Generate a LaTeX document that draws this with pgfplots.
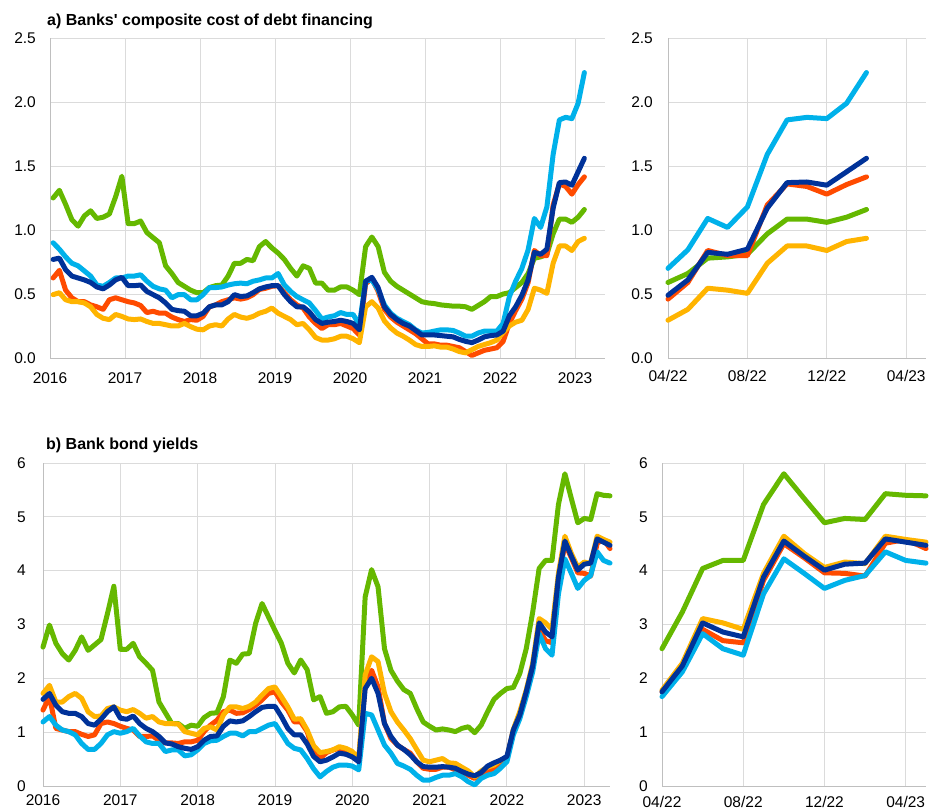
\documentclass[border=0pt]{standalone}
\usepackage{fontspec}
\setmainfont{Liberation Sans}[Ligatures=TeXOff]
\usepackage{pgfplots}
\usepackage{pgfplotstable}
\pgfplotsset{compat=1.18}
\definecolor{ecbnavy}{RGB}{0,50,153}
\definecolor{ecbred}{RGB}{255,75,0}
\definecolor{ecbyellow}{RGB}{255,180,0}
\definecolor{ecbgreen}{RGB}{101,184,0}
\definecolor{ecblblue}{RGB}{0,177,234}

% Panel a: monthly, Jan 2016 - Feb 2023
\pgfplotstableread{
g r y lb nv
1.25 0.625 0.495 0.90 0.77
1.31 0.685 0.51 0.85 0.78
1.20 0.53 0.455 0.79 0.69
1.08 0.47 0.44 0.74 0.64
1.03 0.44 0.44 0.72 0.625
1.11 0.44 0.43 0.68 0.61
1.15 0.415 0.40 0.64 0.59
1.09 0.40 0.34 0.57 0.555
1.10 0.38 0.31 0.56 0.54
1.125 0.455 0.30 0.59 0.57
1.26 0.47 0.34 0.625 0.61
1.42 0.455 0.325 0.625 0.63
1.05 0.44 0.305 0.64 0.565
1.05 0.43 0.30 0.64 0.565
1.07 0.41 0.305 0.65 0.57
0.98 0.355 0.285 0.60 0.52
0.94 0.365 0.27 0.56 0.495
0.90 0.35 0.27 0.54 0.47
0.72 0.35 0.26 0.53 0.43
0.66 0.32 0.25 0.47 0.38
0.59 0.30 0.25 0.495 0.37
0.56 0.285 0.27 0.495 0.365
0.53 0.30 0.245 0.455 0.33
0.51 0.295 0.225 0.455 0.33
0.51 0.325 0.22 0.495 0.35
0.55 0.40 0.25 0.55 0.40
0.565 0.415 0.26 0.55 0.415
0.57 0.44 0.25 0.555 0.415
0.64 0.455 0.305 0.57 0.44
0.74 0.47 0.34 0.58 0.495
0.74 0.46 0.32 0.585 0.48
0.77 0.47 0.31 0.58 0.485
0.76 0.495 0.325 0.60 0.51
0.87 0.535 0.35 0.61 0.54
0.91 0.545 0.365 0.625 0.555
0.86 0.56 0.39 0.625 0.565
0.82 0.565 0.35 0.66 0.565
0.77 0.51 0.325 0.57 0.495
0.70 0.455 0.30 0.52 0.44
0.64 0.415 0.26 0.48 0.40
0.72 0.39 0.27 0.455 0.40
0.70 0.32 0.22 0.43 0.36
0.585 0.27 0.16 0.37 0.30
0.585 0.23 0.14 0.305 0.27
0.53 0.26 0.14 0.32 0.28
0.53 0.26 0.15 0.33 0.285
0.555 0.27 0.17 0.355 0.295
0.555 0.25 0.17 0.34 0.285
0.53 0.23 0.15 0.34 0.27
0.495 0.18 0.12 0.26 0.22
0.87 0.58 0.40 0.60 0.60
0.945 0.62 0.44 0.61 0.63
0.87 0.52 0.39 0.535 0.55
0.67 0.38 0.29 0.415 0.40
0.60 0.32 0.235 0.35 0.34
0.56 0.28 0.195 0.31 0.30
0.53 0.25 0.17 0.285 0.27
0.50 0.22 0.14 0.26 0.25
0.47 0.19 0.105 0.22 0.215
0.44 0.15 0.09 0.195 0.18
0.43 0.11 0.09 0.20 0.18
0.425 0.11 0.095 0.21 0.18
0.415 0.10 0.085 0.22 0.175
0.41 0.10 0.085 0.22 0.17
0.405 0.09 0.07 0.215 0.165
0.405 0.08 0.05 0.195 0.145
0.40 0.05 0.04 0.17 0.13
0.38 0.02 0.065 0.17 0.12
0.41 0.04 0.09 0.195 0.14
0.44 0.06 0.105 0.21 0.165
0.48 0.07 0.12 0.21 0.175
0.48 0.08 0.14 0.21 0.18
0.50 0.13 0.20 0.27 0.21
0.51 0.27 0.25 0.48 0.33
0.55 0.37 0.28 0.60 0.40
0.59 0.46 0.295 0.70 0.49
0.66 0.59 0.38 0.845 0.61
0.78 0.84 0.545 1.09 0.825
0.79 0.80 0.53 1.02 0.81
0.81 0.80 0.505 1.18 0.85
0.97 1.195 0.74 1.59 1.17
1.085 1.36 0.875 1.86 1.37
1.085 1.34 0.875 1.88 1.375
1.06 1.28 0.84 1.87 1.35
1.10 1.355 0.91 1.99 1.455
1.16 1.415 0.935 2.23 1.56
}\tabA

% Panel b: monthly, Jan 2016 - May 2023
\pgfplotstableread{
g r y lb nv
2.58 1.41 1.72 1.19 1.61
2.99 1.66 1.87 1.29 1.72
2.65 1.07 1.56 1.13 1.50
2.46 1.04 1.56 1.04 1.38
2.34 1.01 1.66 1.01 1.35
2.52 1.01 1.72 0.95 1.35
2.77 0.96 1.63 0.79 1.29
2.52 0.92 1.38 0.68 1.16
2.62 0.95 1.29 0.68 1.13
2.72 1.16 1.30 0.79 1.24
3.20 1.19 1.44 0.95 1.38
3.71 1.16 1.47 1.01 1.47
2.54 1.11 1.41 0.98 1.26
2.54 1.07 1.38 1.01 1.24
2.65 1.04 1.42 1.07 1.30
2.40 0.92 1.35 0.93 1.16
2.28 0.92 1.26 0.82 1.07
2.15 0.93 1.29 0.79 1.01
1.56 0.85 1.19 0.79 0.92
1.36 0.80 1.16 0.64 0.80
1.16 0.80 1.16 0.67 0.78
1.16 0.79 1.15 0.67 0.73
1.07 0.82 1.01 0.56 0.70
1.13 0.82 0.98 0.58 0.68
1.11 0.85 0.95 0.67 0.73
1.27 1.01 1.07 0.79 0.85
1.35 1.13 1.10 0.84 0.92
1.36 1.22 1.04 0.85 0.93
1.66 1.38 1.32 0.92 1.11
2.34 1.41 1.47 0.98 1.21
2.28 1.35 1.47 0.98 1.19
2.45 1.36 1.44 0.93 1.21
2.46 1.42 1.48 1.01 1.29
3.02 1.50 1.56 1.01 1.38
3.39 1.60 1.69 1.07 1.46
3.14 1.72 1.81 1.13 1.48
2.89 1.75 1.84 1.16 1.48
2.65 1.56 1.66 0.98 1.29
2.28 1.41 1.47 0.79 1.07
2.10 1.19 1.24 0.70 0.95
2.34 1.19 1.25 0.67 0.95
2.16 1.01 1.04 0.51 0.78
1.60 0.63 0.75 0.32 0.55
1.66 0.51 0.62 0.17 0.45
1.35 0.62 0.64 0.27 0.48
1.38 0.67 0.67 0.35 0.54
1.47 0.70 0.73 0.39 0.61
1.48 0.67 0.70 0.39 0.59
1.32 0.62 0.64 0.37 0.54
1.13 0.48 0.51 0.30 0.45
3.51 1.87 2.06 1.35 1.81
4.02 2.15 2.40 1.32 2.00
3.70 1.84 2.31 1.04 1.72
2.55 1.16 1.72 0.76 1.16
2.15 0.88 1.38 0.61 0.92
1.95 0.76 1.19 0.42 0.76
1.79 0.68 1.04 0.37 0.68
1.72 0.61 0.88 0.31 0.58
1.44 0.45 0.68 0.20 0.45
1.19 0.33 0.48 0.11 0.36
1.11 0.31 0.45 0.11 0.35
1.04 0.31 0.48 0.16 0.35
1.06 0.35 0.51 0.20 0.36
1.04 0.35 0.43 0.20 0.35
1.01 0.30 0.42 0.23 0.33
1.07 0.27 0.35 0.17 0.27
1.10 0.20 0.28 0.08 0.22
0.99 0.14 0.17 0.02 0.19
1.13 0.22 0.28 0.14 0.25
1.38 0.27 0.35 0.20 0.37
1.61 0.33 0.39 0.23 0.43
1.72 0.42 0.48 0.33 0.48
1.81 0.51 0.50 0.45 0.55
1.83 1.04 1.05 0.95 1.04
2.09 1.35 1.38 1.25 1.32
2.55 1.75 1.78 1.66 1.75
3.23 2.22 2.28 2.12 2.23
4.04 2.91 3.11 2.83 3.03
4.19 2.70 3.03 2.55 2.86
4.19 2.66 2.91 2.43 2.77
5.23 3.82 3.95 3.57 3.88
5.80 4.50 4.64 4.22 4.55
5.34 4.24 4.32 3.95 4.27
4.89 3.96 4.06 3.67 4.01
4.97 3.95 4.16 3.82 4.12
4.95 3.90 4.13 3.91 4.14
5.43 4.51 4.64 4.35 4.59
5.40 4.58 4.58 4.19 4.53
5.39 4.41 4.53 4.14 4.47
}\tabB

\pgfplotsset{
  ecb/.style={
    scale only axis,
    axis lines=left,
    axis line style={draw=black!25, line width=0.9pt, -},
    grid=major,
    major grid style={draw=black!14, line width=0.9pt},
    major tick length=0pt,
    tick label style={font=\fontsize{15.5}{18}\selectfont, inner sep=0pt},
    clip=false,
    every axis plot/.append style={line width=5pt, line cap=round, line join=round, mark=none},
  },
  ecbA/.style={ecb, ymin=0, ymax=2.5, ytick={0,0.5,1,1.5,2,2.5},
    yticklabels={0.0,0.5,1.0,1.5,2.0,2.5}},
  ecbB/.style={ecb, ymin=0, ymax=6, ytick={0,1,2,3,4,5,6},
    yticklabels={0,1,2,3,4,5,6}},
}

\begin{document}
\begin{tikzpicture}
\useasboundingbox (0,0) rectangle (929pt,811pt);

\node[anchor=base west, inner sep=0pt, font=\bfseries\fontsize{16}{19}\selectfont] at (47pt,785pt) {a) Banks' composite cost of debt financing};
\node[anchor=base west, inner sep=0pt, font=\bfseries\fontsize{16}{19}\selectfont] at (46pt,361pt) {b) Bank bond yields};

% ---------- top left
\begin{axis}[ecbA, at={(50pt,453pt)}, anchor=south west, width=555pt, height=320pt,
  xmin=2016, xmax=2023.4, xtick={2016,2017,2018,2019,2020,2021,2022,2023},
  xticklabels={2016,2017,2018,2019,2020,2021,2022,2023},
  xticklabel style={anchor=north, yshift=-14pt},
  yticklabel style={anchor=east, xshift=-14pt}]
\addplot[ecbgreen] table[x expr={2016+(\coordindex+0.5)/12}, y=g] {\tabA};
\addplot[ecbred] table[x expr={2016+(\coordindex+0.5)/12}, y=r] {\tabA};
\addplot[ecbyellow] table[x expr={2016+(\coordindex+0.5)/12}, y=y] {\tabA};
\addplot[ecblblue] table[x expr={2016+(\coordindex+0.5)/12}, y=lb] {\tabA};
\addplot[ecbnavy] table[x expr={2016+(\coordindex+0.5)/12}, y=nv] {\tabA};
\end{axis}

% ---------- top right
\begin{axis}[ecbA, at={(668pt,453pt)}, anchor=south west, width=258pt, height=320pt,
  xmin=0, xmax=13, xtick={0,4,8,12}, xticklabels={04/22,08/22,12/22,04/23},
  xticklabel style={anchor=north, yshift=-12pt},
  yticklabel style={anchor=east, xshift=-15pt},
  restrict x to domain=-0.01:13]
\addplot[ecbgreen] table[x expr={\coordindex-75}, y=g] {\tabA};
\addplot[ecbred] table[x expr={\coordindex-75}, y=r] {\tabA};
\addplot[ecbyellow] table[x expr={\coordindex-75}, y=y] {\tabA};
\addplot[ecblblue] table[x expr={\coordindex-75}, y=lb] {\tabA};
\addplot[ecbnavy] table[x expr={\coordindex-75}, y=nv] {\tabA};
\end{axis}

% ---------- bottom left
\begin{axis}[ecbB, at={(43pt,25pt)}, anchor=south west, width=567pt, height=323pt,
  xmin=2016, xmax=2023.3333, xtick={2016,2017,2018,2019,2020,2021,2022,2023},
  xticklabels={2016,2017,2018,2019,2020,2021,2022,2023},
  xticklabel style={anchor=north, yshift=-8pt},
  yticklabel style={anchor=east, xshift=-17pt}]
\addplot[ecbgreen] table[x expr={2016+\coordindex/12}, y=g] {\tabB};
\addplot[ecbred] table[x expr={2016+\coordindex/12}, y=r] {\tabB};
\addplot[ecbyellow] table[x expr={2016+\coordindex/12}, y=y] {\tabB};
\addplot[ecblblue] table[x expr={2016+\coordindex/12}, y=lb] {\tabB};
\addplot[ecbnavy] table[x expr={2016+\coordindex/12}, y=nv] {\tabB};
\end{axis}

% ---------- bottom right
\begin{axis}[ecbB, at={(662pt,25pt)}, anchor=south west, width=264pt, height=323pt,
  xmin=0, xmax=13, xtick={0,4,8,12}, xticklabels={04/22,08/22,12/22,04/23},
  xticklabel style={anchor=north, yshift=-10pt},
  yticklabel style={anchor=east, xshift=-14pt},
  restrict x to domain=-0.01:13.01]
\addplot[ecbgreen] table[x expr={\coordindex-75}, y=g] {\tabB};
\addplot[ecbred] table[x expr={\coordindex-75}, y=r] {\tabB};
\addplot[ecbyellow] table[x expr={\coordindex-75}, y=y] {\tabB};
\addplot[ecblblue] table[x expr={\coordindex-75}, y=lb] {\tabB};
\addplot[ecbnavy] table[x expr={\coordindex-75}, y=nv] {\tabB};
\end{axis}
\end{tikzpicture}
\end{document}
